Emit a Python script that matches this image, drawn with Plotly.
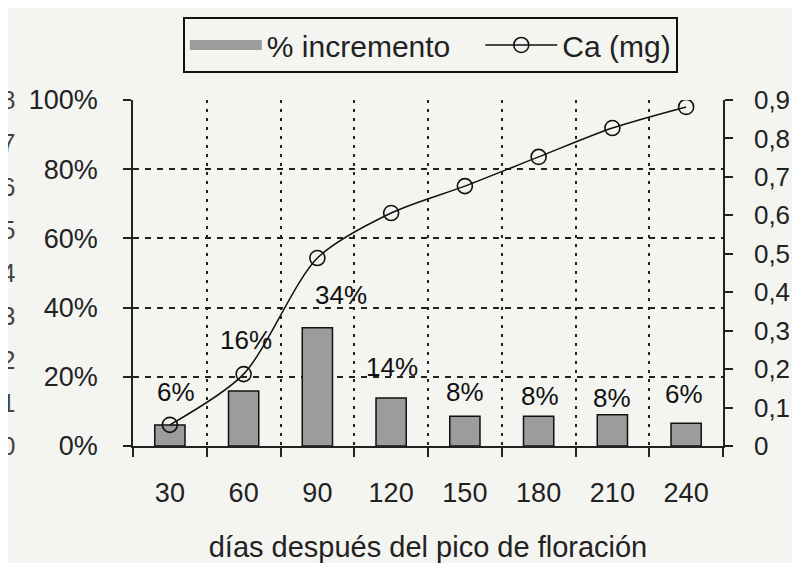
import plotly.graph_objects as go

dias = ["30", "60", "90", "120", "150", "180", "210", "240"]
incremento = [6.1, 15.9, 34.2, 13.9, 8.6, 8.6, 9.0, 6.6]
etiquetas = ["6%", "16%", "34%", "14%", "8%", "8%", "8%", "6%"]
etiqueta_y = [15.6, 30.6, 43.6, 22.8, 15.6, 14.5, 13.9, 15.0]
etiqueta_dx = [6, 2, 24, 1, 0, 1, 0, -2]
ca_mg = [0.055, 0.187, 0.489, 0.606, 0.676, 0.752, 0.827, 0.882]
resto_izq = ["0", "1", "2", "3", "4", "5", "6", "7", "8"]

FONT = "Liberation Sans, Arial, sans-serif"
TXT = "#222222"
BG = "#f4f4f1"
BAR = "#9c9c9c"

fig = go.Figure()
fig.add_trace(go.Bar(
    x=dias, y=incremento, name="% incremento", width=0.41, showlegend=False,
    marker=dict(color=BAR, line=dict(color="#111", width=1.5)),
    yaxis="y",
))
# legend-only entry giving the wide swatch of the original
fig.add_trace(go.Scatter(
    x=[None], y=[None], name="% incremento\u00a0\u00a0\u00a0", mode="lines",
    line=dict(color=BAR, width=20), yaxis="y",
))
fig.add_trace(go.Scatter(
    x=dias, y=ca_mg, name="Ca (mg)", mode="lines+markers",
    line=dict(color="#111", width=1.5, shape="spline", smoothing=0.8),
    marker=dict(symbol="circle-open", size=15, color="#111", line=dict(width=1.6)),
    yaxis="y2",
))

for i, (t, yy, dx) in enumerate(zip(etiquetas, etiqueta_y, etiqueta_dx)):
    fig.add_annotation(x=i, y=yy, xref="x", yref="y", text=t, showarrow=False,
                       xshift=dx, font=dict(family=FONT, size=26, color="#111"))

for i, t in enumerate(resto_izq):
    fig.add_annotation(x=-0.2119, y=i / 8, xref="paper", yref="paper", text=t,
                       showarrow=False, xanchor="center", yanchor="middle",
                       font=dict(family=FONT, size=26, color="#444"))

AX = "#222"
fig.update_layout(
    width=784, height=555,
    margin=dict(l=125, r=69, t=92, b=117, autoexpand=False),
    paper_bgcolor=BG, plot_bgcolor=BG,
    separators=",.",
    showlegend=True,
    font=dict(family=FONT, size=26, color=TXT),
    legend=dict(orientation="h", x=0.504, y=1.24, xanchor="center", yanchor="top",
                bordercolor="#111", borderwidth=2, bgcolor=BG,
                font=dict(family=FONT, size=30, color=TXT), itemwidth=72,
                traceorder="normal"),
    xaxis=dict(
        type="category", range=[-0.5, 7.5], autorange=False,
        tickson="boundaries", showgrid=True,
        gridcolor=AX, griddash="3px,6px", gridwidth=1.8,
        showline=True, linecolor=AX, linewidth=1.5,
        ticks="outside", ticklen=9, tickcolor=AX, tickwidth=1.5,
        ticklabelstandoff=22, tickangle=0,
        tickfont=dict(family=FONT, size=27, color=TXT),
        title=dict(text="días después del pico de floración", standoff=33,
                   font=dict(family=FONT, size=29, color=TXT)),
    ),
    yaxis=dict(
        range=[0, 100], autorange=False, dtick=20, ticksuffix="%", showgrid=True,
        gridcolor=AX, griddash="6px,6px", gridwidth=1.5, zeroline=False,
        showline=True, linecolor=AX, linewidth=1.5,
        ticks="outside", ticklen=8, tickcolor=AX, tickwidth=1.5,
        ticklabelstandoff=20,
        tickfont=dict(family=FONT, size=27, color=TXT),
    ),
    yaxis2=dict(
        range=[0, 0.9], autorange=False, dtick=0.1, overlaying="y", side="right",
        showgrid=False,
        zeroline=False, showline=True, linecolor=AX, linewidth=1.5,
        ticks="outside", ticklen=8, tickcolor=AX, tickwidth=1.5,
        ticklabelstandoff=16,
        tickfont=dict(family=FONT, size=26, color=TXT),
    ),
    yaxis3=dict(
        range=[0, 100], autorange=False, dtick=20, overlaying="y", side="left",
        showgrid=False, zeroline=False, showline=False, showticklabels=False,
        ticks="inside", ticklen=8, tickcolor=AX, tickwidth=1.5,
    ),
    yaxis4=dict(
        range=[0, 0.9], autorange=False, dtick=0.1, overlaying="y", side="right",
        showgrid=False, zeroline=False, showline=False, showticklabels=False,
        ticks="inside", ticklen=8, tickcolor=AX, tickwidth=1.5,
    ),
)

fig.write_html("out.html")
